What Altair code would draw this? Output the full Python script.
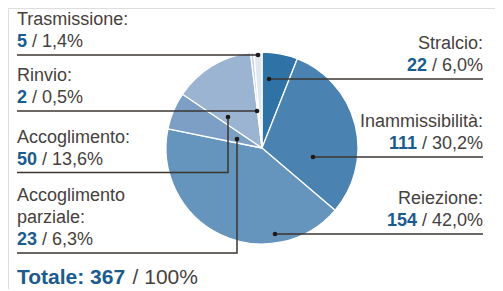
import altair as alt
import pandas as pd

# ---- data ----
categories = ["Stralcio", "Inammissibilità", "Reiezione", "Accoglimento parziale",
              "Accoglimento", "Rinvio", "Trasmissione"]
counts = [22, 111, 154, 23, 50, 2, 5]
percents = ["6,0%", "30,2%", "42,0%", "6,3%", "13,6%", "0,5%", "1,4%"]
total_count = 367
total_pct = "100%"

# ---- styles / layout ----
slice_colors = ["#2f72a6", "#4a83b1", "#6594bd", "#7d9fc5", "#9bb4d2", "#c4d3e6", "#dfe7f1"]
TEXT = "#46413c"
BLUE = "#1b5b8e"
LINE = "#3b3632"
FONT = "Liberation Sans"
FS = 18
W, H = 487, 281
CX, CY, R = 254, 140, 96
LEFT_X, RIGHT_X = 9, 475

# label layout: side, text lines, line y, dot position
layout = {
    "Stralcio":              dict(side="R", lines=["Stralcio:"], ly=71, dot=(261, 71)),
    "Inammissibilità":       dict(side="R", lines=["Inammissibilità:"], ly=149, dot=(305, 149)),
    "Reiezione":             dict(side="R", lines=["Reiezione:"], ly=226, dot=(267, 226)),
    "Accoglimento parziale": dict(side="L", lines=["Accoglimento", "parziale:"], ly=245, dot=(229, 131)),
    "Accoglimento":          dict(side="L", lines=["Accoglimento:"], ly=164.5, dot=(220, 109)),
    "Rinvio":                dict(side="L", lines=["Rinvio:"], ly=103, dot=(249, 103)),
    "Trasmissione":          dict(side="L", lines=["Trasmissione:"], ly=47, dot=(250, 47)),
}

REG = {"0": .556, "1": .556, "2": .556, "3": .556, "4": .556, "5": .556, "6": .556,
       "7": .556, "8": .556, "9": .556, ",": .278, "%": .889, "/": .278, " ": .278}
BOLD = {"0": .556, "1": .556, "2": .556, "3": .556, "4": .556, "5": .556, "6": .556,
        "7": .556, "8": .556, "9": .556, ":": .333, " ": .278, "T": .611, "o": .611,
        "t": .333, "a": .556, "l": .278, "e": .556}


def tw(s, size, table):
    return sum(table.get(c, .556) for c in s) * size


pie_df = pd.DataFrame({"category": categories, "value": counts,
                       "idx": list(range(len(categories)))})

line_rows, dot_rows, name_rows, num_rows, rest_rows = [], [], [], [], []
for cat, cnt, pct in zip(categories, counts, percents):
    L = layout[cat]
    dx, dy = L["dot"]
    ly = L["ly"]
    dot_rows.append({"x": dx, "y": dy})
    if L["side"] == "R":
        pts = [(dx, ly), (RIGHT_X, ly)]
    else:
        if abs(dy - ly) < 0.5:
            pts = [(dx, ly), (LEFT_X, ly)]
        else:
            pts = [(dx, dy), (dx, ly), (LEFT_X, ly)]
    for i, (px, py) in enumerate(pts):
        line_rows.append({"label": cat, "seq": i, "x": px, "y": py})
    n = len(L["lines"])
    for i, t in enumerate(L["lines"]):
        name_rows.append({"side": L["side"], "text": t,
                          "x": LEFT_X if L["side"] == "L" else RIGHT_X,
                          "y": ly - 8 - 22 * (n - i)})
    num = str(cnt)
    rest = "/ " + pct
    ny = ly - 8
    if L["side"] == "L":
        num_rows.append({"side": "L", "text": num, "x": LEFT_X, "y": ny})
        rest_rows.append({"side": "L", "text": rest,
                          "x": LEFT_X + tw(num, FS, BOLD) + tw(" ", FS, REG), "y": ny})
    else:
        rest_rows.append({"side": "R", "text": rest, "x": RIGHT_X, "y": ny})
        num_rows.append({"side": "R", "text": num,
                         "x": RIGHT_X - tw(rest, FS, REG) - tw(" ", FS, REG), "y": ny})

TFS = 21
TOT_Y = 276
tot_bold = f"Totale: {total_count}"
tot_df_b = pd.DataFrame([{"text": tot_bold, "x": LEFT_X, "y": TOT_Y}])
tot_df_r = pd.DataFrame([{"text": "/ " + total_pct,
                          "x": LEFT_X + tw(tot_bold, TFS, BOLD) + tw(" ", TFS, REG), "y": TOT_Y}])

xs = alt.Scale(domain=[0, W], range=[0, W])
ys = alt.Scale(domain=[0, H], range=[0, H])
X = lambda: alt.X("x:Q", scale=xs, axis=None)
Y = lambda: alt.Y("y:Q", scale=ys, axis=None)

pie = alt.Chart(pie_df).mark_arc(outerRadius=R, stroke="white", strokeWidth=1.3).encode(
    theta=alt.Theta("value:Q", stack=True),
    color=alt.Color("category:N", scale=alt.Scale(domain=categories, range=slice_colors),
                    legend=None),
    order=alt.Order("idx:Q"),
    x=alt.value(CX), y=alt.value(CY),
)

lines = alt.Chart(pd.DataFrame(line_rows)).mark_line(color=LINE, strokeWidth=1.5).encode(
    x=X(), y=Y(), detail="label:N", order="seq:Q")

dots = alt.Chart(pd.DataFrame(dot_rows)).mark_circle(color="#1e1a17", size=22, opacity=1).encode(
    x=X(), y=Y())


def texts(rows, side, color, weight, size=FS):
    df = pd.DataFrame([r for r in rows if r.get("side", side) == side])
    return alt.Chart(df).mark_text(
        align="left" if side == "L" else "right", baseline="alphabetic",
        font=FONT, fontSize=size, fontWeight=weight, color=color
    ).encode(x=X(), y=Y(), text="text:N")


layers = [pie, lines, dots,
          texts(name_rows, "L", TEXT, "normal"), texts(name_rows, "R", TEXT, "normal"),
          texts(num_rows, "L", BLUE, "bold"), texts(num_rows, "R", BLUE, "bold"),
          texts(rest_rows, "L", TEXT, "normal"), texts(rest_rows, "R", TEXT, "normal")]

tot_b = alt.Chart(tot_df_b).mark_text(align="left", baseline="alphabetic", font=FONT,
                                      fontSize=TFS, fontWeight="bold", color=BLUE).encode(
    x=X(), y=Y(), text="text:N")
tot_r = alt.Chart(tot_df_r).mark_text(align="left", baseline="alphabetic", font=FONT,
                                      fontSize=TFS, fontWeight="normal", color=TEXT).encode(
    x=X(), y=Y(), text="text:N")

chart = alt.layer(*layers, tot_b, tot_r).properties(
    width=W, height=H, padding=0, autosize="none"
).configure_view(stroke=None).configure(background="white")

chart.save("out.html", embed_options={"renderer": "svg", "actions": False})
